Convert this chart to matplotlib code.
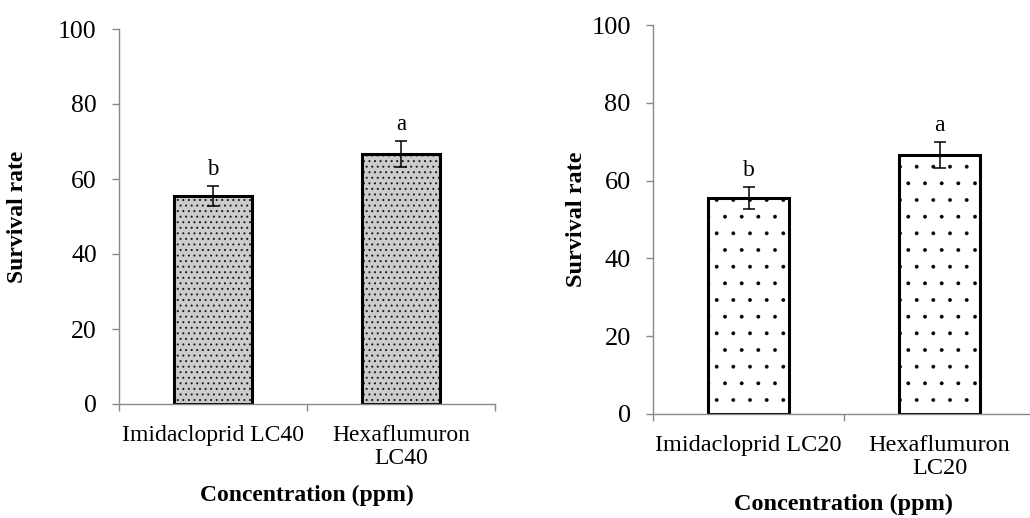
import matplotlib
matplotlib.use('Agg')
import matplotlib.pyplot as plt

plt.rcParams['font.family'] = ['Liberation Serif', 'DejaVu Serif']

# left panel: LC40
cats_40 = ['Imidacloprid LC40', 'Hexaflumuron\nLC40']
surv_40 = [55.5, 66.7]
err_40 = [2.7, 3.4]
letters_40 = ['b', 'a']

# right panel: LC20
cats_20 = ['Imidacloprid LC20', 'Hexaflumuron\nLC20']
surv_20 = [55.5, 66.6]
err_20 = [2.8, 3.3]
letters_20 = ['b', 'a']

yticks = [0, 20, 40, 60, 80, 100]

fig = plt.figure(figsize=(10.30, 5.18), dpi=100)
ax1 = fig.add_axes([119/1030, 1-404/518, 376/1030, 375/518])
ax2 = fig.add_axes([653/1030, 1-414/518, 382/1030, 389/518])


def draw_panel(ax, cats, vals, errs, letters, hatch, hatch_col, face, hlw, fs, lab_x, lab_y):
    x = list(range(len(cats)))
    # hatch fill first, then thick black outline on top
    with plt.rc_context({'hatch.linewidth': hlw}):
        bars = ax.bar(x, vals, width=0.42, color=face, edgecolor=hatch_col, hatch=hatch, linewidth=0)
    for b in bars:
        if hasattr(b, 'set_hatch_linewidth'):
            b.set_hatch_linewidth(hlw)
    ax.bar(x, vals, width=0.42, fill=False, edgecolor='black', linewidth=2.2)
    ax.errorbar(x, vals, yerr=errs, fmt='none', ecolor='black', elinewidth=1.1, capsize=4, capthick=1.1)
    for xi, v, e, l in zip(x, vals, errs, letters):
        ax.annotate(l, (xi, v + e), xytext=(0, 8), textcoords='offset points',
                    ha='center', va='baseline', fontsize=fs - 2)

    ax.set_xlim(-0.5, len(cats) - 0.5)
    ax.set_ylim(0, 100)
    ax.set_yticks(yticks)
    ax.set_xticks(x)
    ax.set_xticklabels(cats, fontsize=fs - 1.5, linespacing=1.15)
    ax.set_xticks([i - 0.5 for i in range(len(cats) + 1)], minor=True)
    ax.tick_params(axis='x', which='major', length=0, pad=15)
    ax.tick_params(axis='x', which='minor', length=5, color='#898989', width=1.0, direction='out')
    ax.tick_params(axis='y', length=5, color='#898989', width=1.0, pad=11, labelsize=fs)

    for s in ['top', 'right']:
        ax.spines[s].set_visible(False)
    for s in ['left', 'bottom']:
        ax.spines[s].set_color('#898989')
        ax.spines[s].set_linewidth(1.0)

    ax.set_ylabel('Survival rate', fontsize=fs - 1.5, fontweight='bold')
    ax.yaxis.set_label_coords(lab_x, 0.5)
    ax.set_xlabel('Concentration (ppm)', fontsize=fs - 1.5, fontweight='bold')
    ax.xaxis.set_label_coords(0.5, lab_y)


draw_panel(ax1, cats_40, surv_40, err_40, letters_40, '...', '#1a1a1a', '#cccccc', 0.7, 18.5, -0.242, -0.215)
draw_panel(ax2, cats_20, surv_20, err_20, letters_20, '.', 'black', 'white', 0.3, 19, -0.173, -0.205)
ax2.spines['bottom'].set_bounds(-0.5, 1.5)

fig.savefig('out.png', dpi=100)
